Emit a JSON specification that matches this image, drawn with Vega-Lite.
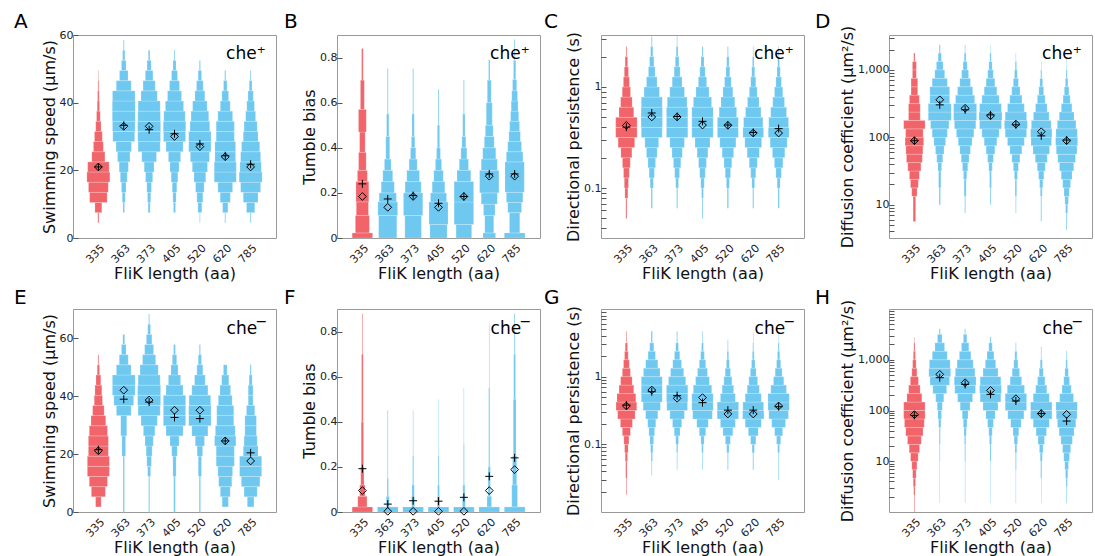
{
"$schema":"https://vega.github.io/schema/vega-lite/v6.json",
"padding":{"left":13,"top":11,"right":0,"bottom":0},
"config":{
"font":"DejaVu Sans",
"view":{"stroke":"#999999","strokeWidth":1},
"axis":{"domain":false,"grid":false,"labelFontSize":11,"titleFontSize":16,"titleFontWeight":"normal","labelColor":"#222","titleColor":"#111","tickColor":"#555"},
"axisX":{"ticks":false,"labelAngle":-45,"labelPadding":4,"titlePadding":1},
"axisY":{"tickSize":-5,"labelPadding":5,"titlePadding":2,"labelOverlap":false}
},
"datasets":{
"v":[
{"p":"A","k":"335","a":4.5,"b":7.5,"w":0.5},{"p":"A","k":"335","a":7.5,"b":10.5,"w":3},{"p":"A","k":"335","a":10.5,"b":13.5,"w":7.6},{"p":"A","k":"335","a":13.5,"b":16.5,"w":8.6},{"p":"A","k":"335","a":16.5,"b":19.5,"w":10},{"p":"A","k":"335","a":19.5,"b":22.5,"w":9.3},{"p":"A","k":"335","a":22.5,"b":25.5,"w":5.7},{"p":"A","k":"335","a":25.5,"b":28.5,"w":4.3},{"p":"A","k":"335","a":28.5,"b":31.5,"w":3.4},{"p":"A","k":"335","a":31.5,"b":34.5,"w":2.3},{"p":"A","k":"335","a":34.5,"b":37.5,"w":1.6},{"p":"A","k":"335","a":37.5,"b":40.5,"w":1},{"p":"A","k":"335","a":40.5,"b":43.5,"w":0.7},{"p":"A","k":"335","a":43.5,"b":46.5,"w":0.4},{"p":"A","k":"335","a":46.5,"b":49.5,"w":0.2},
{"p":"A","k":"363","a":7.5,"b":10.5,"w":0.7},{"p":"A","k":"363","a":10.5,"b":13.5,"w":1.3},{"p":"A","k":"363","a":13.5,"b":16.5,"w":2},{"p":"A","k":"363","a":16.5,"b":19.5,"w":3},{"p":"A","k":"363","a":19.5,"b":22.5,"w":4},{"p":"A","k":"363","a":22.5,"b":25.5,"w":5.4},{"p":"A","k":"363","a":25.5,"b":28.5,"w":6.7},{"p":"A","k":"363","a":28.5,"b":31.5,"w":9.5},{"p":"A","k":"363","a":31.5,"b":34.5,"w":9.8},{"p":"A","k":"363","a":34.5,"b":37.5,"w":10},{"p":"A","k":"363","a":37.5,"b":40.5,"w":10},{"p":"A","k":"363","a":40.5,"b":43.5,"w":9.8},{"p":"A","k":"363","a":43.5,"b":46.5,"w":6.5},{"p":"A","k":"363","a":46.5,"b":49.5,"w":3.7},{"p":"A","k":"363","a":49.5,"b":52.5,"w":2},{"p":"A","k":"363","a":52.5,"b":55.5,"w":1},{"p":"A","k":"363","a":55.5,"b":58.5,"w":0.4},
{"p":"A","k":"373","a":7.5,"b":10.5,"w":0.9},{"p":"A","k":"373","a":10.5,"b":13.5,"w":1.4},{"p":"A","k":"373","a":13.5,"b":16.5,"w":2},{"p":"A","k":"373","a":16.5,"b":19.5,"w":3.1},{"p":"A","k":"373","a":19.5,"b":22.5,"w":4.3},{"p":"A","k":"373","a":22.5,"b":25.5,"w":6.4},{"p":"A","k":"373","a":25.5,"b":28.5,"w":9.6},{"p":"A","k":"373","a":28.5,"b":31.5,"w":9.9},{"p":"A","k":"373","a":31.5,"b":34.5,"w":10},{"p":"A","k":"373","a":34.5,"b":37.5,"w":9.8},{"p":"A","k":"373","a":37.5,"b":40.5,"w":9.6},{"p":"A","k":"373","a":40.5,"b":43.5,"w":7.1},{"p":"A","k":"373","a":43.5,"b":46.5,"w":5.3},{"p":"A","k":"373","a":46.5,"b":49.5,"w":3.3},{"p":"A","k":"373","a":49.5,"b":52.5,"w":1.8},{"p":"A","k":"373","a":52.5,"b":55.5,"w":0.7},
{"p":"A","k":"405","a":7.5,"b":10.5,"w":0.9},{"p":"A","k":"405","a":10.5,"b":13.5,"w":1.4},{"p":"A","k":"405","a":13.5,"b":16.5,"w":2},{"p":"A","k":"405","a":16.5,"b":19.5,"w":2.9},{"p":"A","k":"405","a":19.5,"b":22.5,"w":3.9},{"p":"A","k":"405","a":22.5,"b":25.5,"w":5.3},{"p":"A","k":"405","a":25.5,"b":28.5,"w":7.4},{"p":"A","k":"405","a":28.5,"b":31.5,"w":9.6},{"p":"A","k":"405","a":31.5,"b":34.5,"w":9.8},{"p":"A","k":"405","a":34.5,"b":37.5,"w":9.3},{"p":"A","k":"405","a":37.5,"b":40.5,"w":7.9},{"p":"A","k":"405","a":40.5,"b":43.5,"w":6.1},{"p":"A","k":"405","a":43.5,"b":46.5,"w":4.3},{"p":"A","k":"405","a":46.5,"b":49.5,"w":2.6},{"p":"A","k":"405","a":49.5,"b":52.5,"w":1.3},{"p":"A","k":"405","a":52.5,"b":55.5,"w":0.4},
{"p":"A","k":"520","a":4.5,"b":7.5,"w":0.3},{"p":"A","k":"520","a":7.5,"b":10.5,"w":1.7},{"p":"A","k":"520","a":10.5,"b":13.5,"w":2.6},{"p":"A","k":"520","a":13.5,"b":16.5,"w":3.7},{"p":"A","k":"520","a":16.5,"b":19.5,"w":5.1},{"p":"A","k":"520","a":19.5,"b":22.5,"w":6.6},{"p":"A","k":"520","a":22.5,"b":25.5,"w":8.3},{"p":"A","k":"520","a":25.5,"b":28.5,"w":9.7},{"p":"A","k":"520","a":28.5,"b":31.5,"w":9.7},{"p":"A","k":"520","a":31.5,"b":34.5,"w":8.6},{"p":"A","k":"520","a":34.5,"b":37.5,"w":7.7},{"p":"A","k":"520","a":37.5,"b":40.5,"w":6.3},{"p":"A","k":"520","a":40.5,"b":43.5,"w":4.3},{"p":"A","k":"520","a":43.5,"b":46.5,"w":2.9},{"p":"A","k":"520","a":46.5,"b":49.5,"w":1.5},{"p":"A","k":"520","a":49.5,"b":52.5,"w":0.5},
{"p":"A","k":"620","a":4.5,"b":7.5,"w":0.4},{"p":"A","k":"620","a":7.5,"b":10.5,"w":2.3},{"p":"A","k":"620","a":10.5,"b":13.5,"w":4.4},{"p":"A","k":"620","a":13.5,"b":16.5,"w":6.4},{"p":"A","k":"620","a":16.5,"b":19.5,"w":9.6},{"p":"A","k":"620","a":19.5,"b":22.5,"w":9.6},{"p":"A","k":"620","a":22.5,"b":25.5,"w":9},{"p":"A","k":"620","a":25.5,"b":28.5,"w":9},{"p":"A","k":"620","a":28.5,"b":31.5,"w":7.9},{"p":"A","k":"620","a":31.5,"b":34.5,"w":7.9},{"p":"A","k":"620","a":34.5,"b":37.5,"w":6.4},{"p":"A","k":"620","a":37.5,"b":40.5,"w":4.3},{"p":"A","k":"620","a":40.5,"b":43.5,"w":2.9},{"p":"A","k":"620","a":43.5,"b":46.5,"w":1.5},{"p":"A","k":"620","a":46.5,"b":49.5,"w":0.5},
{"p":"A","k":"785","a":4.5,"b":7.5,"w":0.4},{"p":"A","k":"785","a":7.5,"b":10.5,"w":3.6},{"p":"A","k":"785","a":10.5,"b":13.5,"w":6.4},{"p":"A","k":"785","a":13.5,"b":16.5,"w":8.7},{"p":"A","k":"785","a":16.5,"b":19.5,"w":10},{"p":"A","k":"785","a":19.5,"b":22.5,"w":9.3},{"p":"A","k":"785","a":22.5,"b":25.5,"w":8.7},{"p":"A","k":"785","a":25.5,"b":28.5,"w":7.9},{"p":"A","k":"785","a":28.5,"b":31.5,"w":6.4},{"p":"A","k":"785","a":31.5,"b":34.5,"w":5.7},{"p":"A","k":"785","a":34.5,"b":37.5,"w":4.3},{"p":"A","k":"785","a":37.5,"b":40.5,"w":3.3},{"p":"A","k":"785","a":40.5,"b":43.5,"w":2.3},{"p":"A","k":"785","a":43.5,"b":46.5,"w":1.2},{"p":"A","k":"785","a":46.5,"b":49.5,"w":0.4},

{"p":"B","k":"335","a":0,"b":0.0225,"w":8.9},{"p":"B","k":"335","a":0.0225,"b":0.1,"w":6.1},{"p":"B","k":"335","a":0.1,"b":0.16,"w":5.3},{"p":"B","k":"335","a":0.16,"b":0.25,"w":5.6},{"p":"B","k":"335","a":0.25,"b":0.3,"w":4.3},{"p":"B","k":"335","a":0.3,"b":0.38,"w":3.3},{"p":"B","k":"335","a":0.38,"b":0.47,"w":2.4},{"p":"B","k":"335","a":0.47,"b":0.57,"w":3.4},{"p":"B","k":"335","a":0.57,"b":0.7,"w":1.7},{"p":"B","k":"335","a":0.7,"b":0.84,"w":0.7},
{"p":"B","k":"363","a":0,"b":0.1,"w":7.9},{"p":"B","k":"363","a":0.1,"b":0.16,"w":8.6},{"p":"B","k":"363","a":0.16,"b":0.2,"w":7.5},{"p":"B","k":"363","a":0.2,"b":0.25,"w":5.7},{"p":"B","k":"363","a":0.25,"b":0.3,"w":4.3},{"p":"B","k":"363","a":0.3,"b":0.35,"w":2.9},{"p":"B","k":"363","a":0.35,"b":0.45,"w":1.7},{"p":"B","k":"363","a":0.45,"b":0.55,"w":1},{"p":"B","k":"363","a":0.55,"b":0.75,"w":0.4},
{"p":"B","k":"373","a":0,"b":0.1,"w":7.2},{"p":"B","k":"373","a":0.1,"b":0.2,"w":8.4},{"p":"B","k":"373","a":0.2,"b":0.25,"w":7},{"p":"B","k":"373","a":0.25,"b":0.3,"w":5.5},{"p":"B","k":"373","a":0.3,"b":0.35,"w":3.5},{"p":"B","k":"373","a":0.35,"b":0.4,"w":2.3},{"p":"B","k":"373","a":0.4,"b":0.45,"w":1.5},{"p":"B","k":"373","a":0.45,"b":0.55,"w":1},{"p":"B","k":"373","a":0.55,"b":0.75,"w":0.4},
{"p":"B","k":"405","a":0,"b":0.06,"w":7.5},{"p":"B","k":"405","a":0.06,"b":0.16,"w":8.3},{"p":"B","k":"405","a":0.16,"b":0.2,"w":7},{"p":"B","k":"405","a":0.2,"b":0.25,"w":5.5},{"p":"B","k":"405","a":0.25,"b":0.3,"w":4.1},{"p":"B","k":"405","a":0.3,"b":0.35,"w":2.7},{"p":"B","k":"405","a":0.35,"b":0.4,"w":1.7},{"p":"B","k":"405","a":0.4,"b":0.5,"w":1},{"p":"B","k":"405","a":0.5,"b":0.66,"w":0.4},
{"p":"B","k":"520","a":0,"b":0.06,"w":6.8},{"p":"B","k":"520","a":0.06,"b":0.16,"w":8.5},{"p":"B","k":"520","a":0.16,"b":0.25,"w":8.5},{"p":"B","k":"520","a":0.25,"b":0.3,"w":6},{"p":"B","k":"520","a":0.3,"b":0.35,"w":4},{"p":"B","k":"520","a":0.35,"b":0.4,"w":2.6},{"p":"B","k":"520","a":0.4,"b":0.45,"w":1.7},{"p":"B","k":"520","a":0.45,"b":0.55,"w":1},{"p":"B","k":"520","a":0.55,"b":0.7,"w":0.4},
{"p":"B","k":"620","a":0,"b":0.0225,"w":5.5},{"p":"B","k":"620","a":0.0225,"b":0.1,"w":3.9},{"p":"B","k":"620","a":0.1,"b":0.15,"w":5},{"p":"B","k":"620","a":0.15,"b":0.2,"w":7},{"p":"B","k":"620","a":0.2,"b":0.3,"w":8.4},{"p":"B","k":"620","a":0.3,"b":0.35,"w":7},{"p":"B","k":"620","a":0.35,"b":0.4,"w":5.7},{"p":"B","k":"620","a":0.4,"b":0.45,"w":4.3},{"p":"B","k":"620","a":0.45,"b":0.5,"w":3.4},{"p":"B","k":"620","a":0.5,"b":0.6,"w":2.6},{"p":"B","k":"620","a":0.6,"b":0.7,"w":1.7},{"p":"B","k":"620","a":0.7,"b":0.79,"w":0.6},
{"p":"B","k":"785","a":0,"b":0.0225,"w":9},{"p":"B","k":"785","a":0.0225,"b":0.1125,"w":4.5},{"p":"B","k":"785","a":0.1125,"b":0.1575,"w":6},{"p":"B","k":"785","a":0.1575,"b":0.2025,"w":7.2},{"p":"B","k":"785","a":0.2025,"b":0.3375,"w":8.4},{"p":"B","k":"785","a":0.3375,"b":0.3825,"w":7.2},{"p":"B","k":"785","a":0.3825,"b":0.4275,"w":6},{"p":"B","k":"785","a":0.4275,"b":0.4725,"w":5},{"p":"B","k":"785","a":0.4725,"b":0.5175,"w":4.3},{"p":"B","k":"785","a":0.5175,"b":0.5625,"w":3.5},{"p":"B","k":"785","a":0.5625,"b":0.6075,"w":3},{"p":"B","k":"785","a":0.6075,"b":0.6525,"w":2.5},{"p":"B","k":"785","a":0.6525,"b":0.7025,"w":1.8},{"p":"B","k":"785","a":0.7025,"b":0.7875,"w":1},{"p":"B","k":"785","a":0.7875,"b":0.88,"w":0.4},

{"p":"C","k":"335","a":0.05,"b":0.0794,"w":0.5},{"p":"C","k":"335","a":0.0794,"b":0.1,"w":1.3},{"p":"C","k":"335","a":0.1,"b":0.1259,"w":1.8},{"p":"C","k":"335","a":0.1259,"b":0.1585,"w":2.5},{"p":"C","k":"335","a":0.1585,"b":0.1995,"w":3.4},{"p":"C","k":"335","a":0.1995,"b":0.2512,"w":4.8},{"p":"C","k":"335","a":0.2512,"b":0.3162,"w":7.2},{"p":"C","k":"335","a":0.3162,"b":0.3981,"w":9.3},{"p":"C","k":"335","a":0.3981,"b":0.5012,"w":9.3},{"p":"C","k":"335","a":0.5012,"b":0.631,"w":6.4},{"p":"C","k":"335","a":0.631,"b":0.7943,"w":5},{"p":"C","k":"335","a":0.7943,"b":1,"w":3.6},{"p":"C","k":"335","a":1,"b":1.259,"w":2.6},{"p":"C","k":"335","a":1.259,"b":1.585,"w":1.8},{"p":"C","k":"335","a":1.585,"b":1.995,"w":1.1},{"p":"C","k":"335","a":1.995,"b":2.512,"w":0.4},
{"p":"C","k":"363","a":0.0631,"b":0.1,"w":0.6},{"p":"C","k":"363","a":0.1,"b":0.1259,"w":1.4},{"p":"C","k":"363","a":0.1259,"b":0.1585,"w":2.3},{"p":"C","k":"363","a":0.1585,"b":0.1995,"w":3.3},{"p":"C","k":"363","a":0.1995,"b":0.2512,"w":4.6},{"p":"C","k":"363","a":0.2512,"b":0.3162,"w":6},{"p":"C","k":"363","a":0.3162,"b":0.3981,"w":9.1},{"p":"C","k":"363","a":0.3981,"b":0.5012,"w":9.3},{"p":"C","k":"363","a":0.5012,"b":0.631,"w":9.3},{"p":"C","k":"363","a":0.631,"b":0.7943,"w":9.1},{"p":"C","k":"363","a":0.7943,"b":1,"w":6.7},{"p":"C","k":"363","a":1,"b":1.259,"w":4.6},{"p":"C","k":"363","a":1.259,"b":1.585,"w":2.9},{"p":"C","k":"363","a":1.585,"b":1.995,"w":1.9},{"p":"C","k":"363","a":1.995,"b":2.512,"w":1},{"p":"C","k":"363","a":2.512,"b":3.162,"w":0.4},
{"p":"C","k":"373","a":0.0631,"b":0.1,"w":0.5},{"p":"C","k":"373","a":0.1,"b":0.1259,"w":1.2},{"p":"C","k":"373","a":0.1259,"b":0.1585,"w":2.1},{"p":"C","k":"373","a":0.1585,"b":0.1995,"w":3.2},{"p":"C","k":"373","a":0.1995,"b":0.2512,"w":4.5},{"p":"C","k":"373","a":0.2512,"b":0.3162,"w":6.3},{"p":"C","k":"373","a":0.3162,"b":0.3981,"w":9.3},{"p":"C","k":"373","a":0.3981,"b":0.5012,"w":9.3},{"p":"C","k":"373","a":0.5012,"b":0.631,"w":9.3},{"p":"C","k":"373","a":0.631,"b":0.7943,"w":8.6},{"p":"C","k":"373","a":0.7943,"b":1,"w":6.4},{"p":"C","k":"373","a":1,"b":1.259,"w":4.3},{"p":"C","k":"373","a":1.259,"b":1.585,"w":2.6},{"p":"C","k":"373","a":1.585,"b":1.995,"w":1.6},{"p":"C","k":"373","a":1.995,"b":2.512,"w":0.8},{"p":"C","k":"373","a":2.512,"b":3.162,"w":0.3},
{"p":"C","k":"405","a":0.05,"b":0.0794,"w":0.4},{"p":"C","k":"405","a":0.0794,"b":0.1,"w":0.8},{"p":"C","k":"405","a":0.1,"b":0.1259,"w":1.5},{"p":"C","k":"405","a":0.1259,"b":0.1585,"w":2.4},{"p":"C","k":"405","a":0.1585,"b":0.1995,"w":3.4},{"p":"C","k":"405","a":0.1995,"b":0.2512,"w":4.7},{"p":"C","k":"405","a":0.2512,"b":0.3162,"w":6.5},{"p":"C","k":"405","a":0.3162,"b":0.3981,"w":9.3},{"p":"C","k":"405","a":0.3981,"b":0.5012,"w":9.3},{"p":"C","k":"405","a":0.5012,"b":0.631,"w":9.3},{"p":"C","k":"405","a":0.631,"b":0.7943,"w":7.9},{"p":"C","k":"405","a":0.7943,"b":1,"w":5.7},{"p":"C","k":"405","a":1,"b":1.259,"w":3.6},{"p":"C","k":"405","a":1.259,"b":1.585,"w":2.3},{"p":"C","k":"405","a":1.585,"b":1.995,"w":1.3},{"p":"C","k":"405","a":1.995,"b":2.512,"w":0.5},
{"p":"C","k":"520","a":0.0631,"b":0.1,"w":0.6},{"p":"C","k":"520","a":0.1,"b":0.1259,"w":1.3},{"p":"C","k":"520","a":0.1259,"b":0.1585,"w":2.3},{"p":"C","k":"520","a":0.1585,"b":0.1995,"w":3.4},{"p":"C","k":"520","a":0.1995,"b":0.2512,"w":5},{"p":"C","k":"520","a":0.2512,"b":0.3162,"w":7},{"p":"C","k":"520","a":0.3162,"b":0.3981,"w":9.1},{"p":"C","k":"520","a":0.3981,"b":0.5012,"w":9.1},{"p":"C","k":"520","a":0.5012,"b":0.631,"w":7.6},{"p":"C","k":"520","a":0.631,"b":0.7943,"w":6},{"p":"C","k":"520","a":0.7943,"b":1,"w":4.3},{"p":"C","k":"520","a":1,"b":1.259,"w":2.9},{"p":"C","k":"520","a":1.259,"b":1.585,"w":1.7},{"p":"C","k":"520","a":1.585,"b":1.995,"w":1},{"p":"C","k":"520","a":1.995,"b":2.512,"w":0.4},
{"p":"C","k":"620","a":0.0631,"b":0.1,"w":0.5},{"p":"C","k":"620","a":0.1,"b":0.1259,"w":1.2},{"p":"C","k":"620","a":0.1259,"b":0.1585,"w":2.2},{"p":"C","k":"620","a":0.1585,"b":0.1995,"w":3.5},{"p":"C","k":"620","a":0.1995,"b":0.2512,"w":5.3},{"p":"C","k":"620","a":0.2512,"b":0.3162,"w":7.3},{"p":"C","k":"620","a":0.3162,"b":0.3981,"w":9},{"p":"C","k":"620","a":0.3981,"b":0.5012,"w":8.4},{"p":"C","k":"620","a":0.5012,"b":0.631,"w":6.7},{"p":"C","k":"620","a":0.631,"b":0.7943,"w":5},{"p":"C","k":"620","a":0.7943,"b":1,"w":3.4},{"p":"C","k":"620","a":1,"b":1.259,"w":2.2},{"p":"C","k":"620","a":1.259,"b":1.585,"w":1.3},{"p":"C","k":"620","a":1.585,"b":1.995,"w":0.7},{"p":"C","k":"620","a":1.995,"b":2.512,"w":0.3},
{"p":"C","k":"785","a":0.0631,"b":0.1,"w":0.6},{"p":"C","k":"785","a":0.1,"b":0.1259,"w":1.3},{"p":"C","k":"785","a":0.1259,"b":0.1585,"w":2.4},{"p":"C","k":"785","a":0.1585,"b":0.1995,"w":3.7},{"p":"C","k":"785","a":0.1995,"b":0.2512,"w":5.4},{"p":"C","k":"785","a":0.2512,"b":0.3162,"w":7.4},{"p":"C","k":"785","a":0.3162,"b":0.3981,"w":9},{"p":"C","k":"785","a":0.3981,"b":0.5012,"w":8.6},{"p":"C","k":"785","a":0.5012,"b":0.631,"w":6.9},{"p":"C","k":"785","a":0.631,"b":0.7943,"w":5.1},{"p":"C","k":"785","a":0.7943,"b":1,"w":3.6},{"p":"C","k":"785","a":1,"b":1.259,"w":2.4},{"p":"C","k":"785","a":1.259,"b":1.585,"w":1.4},{"p":"C","k":"785","a":1.585,"b":1.995,"w":0.8},{"p":"C","k":"785","a":1.995,"b":2.512,"w":0.3},

{"p":"D","k":"335","a":5.623,"b":13.34,"w":1.1},{"p":"D","k":"335","a":13.34,"b":17.78,"w":2.3},{"p":"D","k":"335","a":17.78,"b":23.71,"w":3.4},{"p":"D","k":"335","a":23.71,"b":31.62,"w":4.3},{"p":"D","k":"335","a":31.62,"b":42.17,"w":5.7},{"p":"D","k":"335","a":42.17,"b":56.23,"w":6.9},{"p":"D","k":"335","a":56.23,"b":74.99,"w":7.4},{"p":"D","k":"335","a":74.99,"b":100,"w":8.1},{"p":"D","k":"335","a":100,"b":133.4,"w":7.6},{"p":"D","k":"335","a":133.4,"b":177.8,"w":9.3},{"p":"D","k":"335","a":177.8,"b":237.1,"w":5.1},{"p":"D","k":"335","a":237.1,"b":316.2,"w":5.1},{"p":"D","k":"335","a":316.2,"b":421.7,"w":4.3},{"p":"D","k":"335","a":421.7,"b":562.3,"w":2.9},{"p":"D","k":"335","a":562.3,"b":749.9,"w":2.9},{"p":"D","k":"335","a":749.9,"b":1000,"w":1.7},{"p":"D","k":"335","a":1000,"b":1334,"w":1.7},{"p":"D","k":"335","a":1334,"b":1778,"w":0.6},
{"p":"D","k":"363","a":10,"b":17.78,"w":0.6},{"p":"D","k":"363","a":17.78,"b":31.62,"w":1},{"p":"D","k":"363","a":31.62,"b":42.17,"w":1.6},{"p":"D","k":"363","a":42.17,"b":56.23,"w":2.6},{"p":"D","k":"363","a":56.23,"b":74.99,"w":3.7},{"p":"D","k":"363","a":74.99,"b":100,"w":5.1},{"p":"D","k":"363","a":100,"b":133.4,"w":6.6},{"p":"D","k":"363","a":133.4,"b":177.8,"w":8},{"p":"D","k":"363","a":177.8,"b":237.1,"w":10},{"p":"D","k":"363","a":237.1,"b":316.2,"w":10},{"p":"D","k":"363","a":316.2,"b":421.7,"w":8.6},{"p":"D","k":"363","a":421.7,"b":562.3,"w":8.6},{"p":"D","k":"363","a":562.3,"b":749.9,"w":6.6},{"p":"D","k":"363","a":749.9,"b":1000,"w":4.3},{"p":"D","k":"363","a":1000,"b":1334,"w":2.9},{"p":"D","k":"363","a":1334,"b":1778,"w":1.4},{"p":"D","k":"363","a":1778,"b":2371,"w":0.5},
{"p":"D","k":"373","a":7.499,"b":13.34,"w":0.4},{"p":"D","k":"373","a":13.34,"b":23.71,"w":0.9},{"p":"D","k":"373","a":23.71,"b":31.62,"w":1.4},{"p":"D","k":"373","a":31.62,"b":42.17,"w":2.3},{"p":"D","k":"373","a":42.17,"b":56.23,"w":3.4},{"p":"D","k":"373","a":56.23,"b":74.99,"w":4.6},{"p":"D","k":"373","a":74.99,"b":100,"w":6},{"p":"D","k":"373","a":100,"b":133.4,"w":7.6},{"p":"D","k":"373","a":133.4,"b":177.8,"w":9.3},{"p":"D","k":"373","a":177.8,"b":237.1,"w":10},{"p":"D","k":"373","a":237.1,"b":316.2,"w":10},{"p":"D","k":"373","a":316.2,"b":421.7,"w":8.3},{"p":"D","k":"373","a":421.7,"b":562.3,"w":6.6},{"p":"D","k":"373","a":562.3,"b":749.9,"w":4.6},{"p":"D","k":"373","a":749.9,"b":1000,"w":3},{"p":"D","k":"373","a":1000,"b":1334,"w":1.8},{"p":"D","k":"373","a":1334,"b":1778,"w":0.8},{"p":"D","k":"373","a":1778,"b":2371,"w":0.3},
{"p":"D","k":"405","a":10,"b":17.78,"w":0.4},{"p":"D","k":"405","a":17.78,"b":31.62,"w":0.8},{"p":"D","k":"405","a":31.62,"b":42.17,"w":1.5},{"p":"D","k":"405","a":42.17,"b":56.23,"w":2.5},{"p":"D","k":"405","a":56.23,"b":74.99,"w":3.8},{"p":"D","k":"405","a":74.99,"b":100,"w":5.5},{"p":"D","k":"405","a":100,"b":133.4,"w":7.5},{"p":"D","k":"405","a":133.4,"b":177.8,"w":9.5},{"p":"D","k":"405","a":177.8,"b":237.1,"w":10},{"p":"D","k":"405","a":237.1,"b":316.2,"w":9.5},{"p":"D","k":"405","a":316.2,"b":421.7,"w":7.5},{"p":"D","k":"405","a":421.7,"b":562.3,"w":5.5},{"p":"D","k":"405","a":562.3,"b":749.9,"w":3.8},{"p":"D","k":"405","a":749.9,"b":1000,"w":2.4},{"p":"D","k":"405","a":1000,"b":1334,"w":1.4},{"p":"D","k":"405","a":1334,"b":1778,"w":0.6},{"p":"D","k":"405","a":1778,"b":2371,"w":0.2},
{"p":"D","k":"520","a":7.499,"b":13.34,"w":0.3},{"p":"D","k":"520","a":13.34,"b":23.71,"w":0.7},{"p":"D","k":"520","a":23.71,"b":31.62,"w":1.3},{"p":"D","k":"520","a":31.62,"b":42.17,"w":2.2},{"p":"D","k":"520","a":42.17,"b":56.23,"w":3.5},{"p":"D","k":"520","a":56.23,"b":74.99,"w":5.2},{"p":"D","k":"520","a":74.99,"b":100,"w":7.3},{"p":"D","k":"520","a":100,"b":133.4,"w":9.3},{"p":"D","k":"520","a":133.4,"b":177.8,"w":10},{"p":"D","k":"520","a":177.8,"b":237.1,"w":9.3},{"p":"D","k":"520","a":237.1,"b":316.2,"w":7.3},{"p":"D","k":"520","a":316.2,"b":421.7,"w":5.3},{"p":"D","k":"520","a":421.7,"b":562.3,"w":3.6},{"p":"D","k":"520","a":562.3,"b":749.9,"w":2.2},{"p":"D","k":"520","a":749.9,"b":1000,"w":1.2},{"p":"D","k":"520","a":1000,"b":1334,"w":0.6},{"p":"D","k":"520","a":1334,"b":1778,"w":0.2},
{"p":"D","k":"620","a":5.623,"b":13.34,"w":0.4},{"p":"D","k":"620","a":13.34,"b":17.78,"w":0.8},{"p":"D","k":"620","a":17.78,"b":23.71,"w":1.4},{"p":"D","k":"620","a":23.71,"b":31.62,"w":2.3},{"p":"D","k":"620","a":31.62,"b":42.17,"w":3.5},{"p":"D","k":"620","a":42.17,"b":56.23,"w":5.2},{"p":"D","k":"620","a":56.23,"b":74.99,"w":7.2},{"p":"D","k":"620","a":74.99,"b":100,"w":8.9},{"p":"D","k":"620","a":100,"b":133.4,"w":9.3},{"p":"D","k":"620","a":133.4,"b":177.8,"w":8.6},{"p":"D","k":"620","a":177.8,"b":237.1,"w":6.8},{"p":"D","k":"620","a":237.1,"b":316.2,"w":5},{"p":"D","k":"620","a":316.2,"b":421.7,"w":3.4},{"p":"D","k":"620","a":421.7,"b":562.3,"w":2.1},{"p":"D","k":"620","a":562.3,"b":749.9,"w":1.2},{"p":"D","k":"620","a":749.9,"b":1000,"w":0.5},{"p":"D","k":"620","a":1000,"b":1334,"w":0.2},
{"p":"D","k":"785","a":4.217,"b":7.499,"w":0.4},{"p":"D","k":"785","a":7.499,"b":10,"w":0.9},{"p":"D","k":"785","a":10,"b":13.34,"w":1.5},{"p":"D","k":"785","a":13.34,"b":17.78,"w":2.3},{"p":"D","k":"785","a":17.78,"b":23.71,"w":3.4},{"p":"D","k":"785","a":23.71,"b":31.62,"w":4.7},{"p":"D","k":"785","a":31.62,"b":42.17,"w":6.2},{"p":"D","k":"785","a":42.17,"b":56.23,"w":7.7},{"p":"D","k":"785","a":56.23,"b":74.99,"w":9},{"p":"D","k":"785","a":74.99,"b":100,"w":9.6},{"p":"D","k":"785","a":100,"b":133.4,"w":9.3},{"p":"D","k":"785","a":133.4,"b":177.8,"w":8.1},{"p":"D","k":"785","a":177.8,"b":237.1,"w":6.4},{"p":"D","k":"785","a":237.1,"b":316.2,"w":4.6},{"p":"D","k":"785","a":316.2,"b":421.7,"w":3.1},{"p":"D","k":"785","a":421.7,"b":562.3,"w":2},{"p":"D","k":"785","a":562.3,"b":749.9,"w":1.1},{"p":"D","k":"785","a":749.9,"b":1000,"w":0.5},{"p":"D","k":"785","a":1000,"b":1500,"w":0.2},

{"p":"E","k":"335","a":1.75,"b":5.25,"w":2.4},{"p":"E","k":"335","a":5.25,"b":8.75,"w":6.1},{"p":"E","k":"335","a":8.75,"b":12.25,"w":7.9},{"p":"E","k":"335","a":12.25,"b":15.75,"w":9.6},{"p":"E","k":"335","a":15.75,"b":19.25,"w":9.6},{"p":"E","k":"335","a":19.25,"b":22.75,"w":8.7},{"p":"E","k":"335","a":22.75,"b":26.25,"w":8.7},{"p":"E","k":"335","a":26.25,"b":29.75,"w":7.9},{"p":"E","k":"335","a":29.75,"b":33.25,"w":6.4},{"p":"E","k":"335","a":33.25,"b":36.75,"w":5},{"p":"E","k":"335","a":36.75,"b":40.25,"w":3.6},{"p":"E","k":"335","a":40.25,"b":43.75,"w":3},{"p":"E","k":"335","a":43.75,"b":47.25,"w":2.1},{"p":"E","k":"335","a":47.25,"b":50.75,"w":1},{"p":"E","k":"335","a":50.75,"b":54.25,"w":0.4},
{"p":"E","k":"363","a":0,"b":19.25,"w":0.6},{"p":"E","k":"363","a":19.25,"b":26.25,"w":1.6},{"p":"E","k":"363","a":26.25,"b":33.25,"w":2.6},{"p":"E","k":"363","a":33.25,"b":36.75,"w":6.4},{"p":"E","k":"363","a":36.75,"b":40.25,"w":8.6},{"p":"E","k":"363","a":40.25,"b":43.75,"w":9.9},{"p":"E","k":"363","a":43.75,"b":47.25,"w":9.9},{"p":"E","k":"363","a":47.25,"b":50.75,"w":6.4},{"p":"E","k":"363","a":50.75,"b":54.25,"w":3.9},{"p":"E","k":"363","a":54.25,"b":57.75,"w":2},{"p":"E","k":"363","a":57.75,"b":61.25,"w":0.8},
{"p":"E","k":"373","a":0,"b":12.25,"w":0.5},{"p":"E","k":"373","a":12.25,"b":15.75,"w":1.3},{"p":"E","k":"373","a":15.75,"b":19.25,"w":2},{"p":"E","k":"373","a":19.25,"b":22.75,"w":2.6},{"p":"E","k":"373","a":22.75,"b":26.25,"w":3.6},{"p":"E","k":"373","a":26.25,"b":29.75,"w":5},{"p":"E","k":"373","a":29.75,"b":33.25,"w":7.1},{"p":"E","k":"373","a":33.25,"b":36.75,"w":9.6},{"p":"E","k":"373","a":36.75,"b":40.25,"w":10},{"p":"E","k":"373","a":40.25,"b":43.75,"w":10},{"p":"E","k":"373","a":43.75,"b":47.25,"w":9.6},{"p":"E","k":"373","a":47.25,"b":50.75,"w":7.9},{"p":"E","k":"373","a":50.75,"b":54.25,"w":5.7},{"p":"E","k":"373","a":54.25,"b":57.75,"w":3.9},{"p":"E","k":"373","a":57.75,"b":61.25,"w":2.4},{"p":"E","k":"373","a":61.25,"b":64.75,"w":1.2},{"p":"E","k":"373","a":64.75,"b":68.25,"w":0.4},
{"p":"E","k":"405","a":0,"b":12.25,"w":0.7},{"p":"E","k":"405","a":12.25,"b":19.25,"w":1.4},{"p":"E","k":"405","a":19.25,"b":22.75,"w":2.4},{"p":"E","k":"405","a":22.75,"b":26.25,"w":3.9},{"p":"E","k":"405","a":26.25,"b":29.75,"w":7.4},{"p":"E","k":"405","a":29.75,"b":33.25,"w":9.7},{"p":"E","k":"405","a":33.25,"b":36.75,"w":9.7},{"p":"E","k":"405","a":36.75,"b":40.25,"w":9.7},{"p":"E","k":"405","a":40.25,"b":43.75,"w":7.4},{"p":"E","k":"405","a":43.75,"b":47.25,"w":5.3},{"p":"E","k":"405","a":47.25,"b":50.75,"w":3.1},{"p":"E","k":"405","a":50.75,"b":54.25,"w":1.9},{"p":"E","k":"405","a":54.25,"b":57.75,"w":0.8},
{"p":"E","k":"520","a":0,"b":12.25,"w":0.6},{"p":"E","k":"520","a":12.25,"b":19.25,"w":1.4},{"p":"E","k":"520","a":19.25,"b":22.75,"w":2.4},{"p":"E","k":"520","a":22.75,"b":26.25,"w":4},{"p":"E","k":"520","a":26.25,"b":29.75,"w":7},{"p":"E","k":"520","a":29.75,"b":33.25,"w":9.7},{"p":"E","k":"520","a":33.25,"b":36.75,"w":9.7},{"p":"E","k":"520","a":36.75,"b":40.25,"w":9.4},{"p":"E","k":"520","a":40.25,"b":43.75,"w":7},{"p":"E","k":"520","a":43.75,"b":47.25,"w":4.6},{"p":"E","k":"520","a":47.25,"b":50.75,"w":2.6},{"p":"E","k":"520","a":50.75,"b":54.25,"w":1.4},{"p":"E","k":"520","a":54.25,"b":57.75,"w":0.5},
{"p":"E","k":"620","a":1.75,"b":5.25,"w":2.7},{"p":"E","k":"620","a":5.25,"b":8.75,"w":4.3},{"p":"E","k":"620","a":8.75,"b":12.25,"w":5.7},{"p":"E","k":"620","a":12.25,"b":15.75,"w":6.4},{"p":"E","k":"620","a":15.75,"b":19.25,"w":7.9},{"p":"E","k":"620","a":19.25,"b":22.75,"w":7.9},{"p":"E","k":"620","a":22.75,"b":26.25,"w":9.3},{"p":"E","k":"620","a":26.25,"b":29.75,"w":8.6},{"p":"E","k":"620","a":29.75,"b":33.25,"w":7.4},{"p":"E","k":"620","a":33.25,"b":36.75,"w":7.4},{"p":"E","k":"620","a":36.75,"b":40.25,"w":6},{"p":"E","k":"620","a":40.25,"b":43.75,"w":4.6},{"p":"E","k":"620","a":43.75,"b":47.25,"w":3.1},{"p":"E","k":"620","a":47.25,"b":50.75,"w":1.6},
{"p":"E","k":"785","a":1.75,"b":5.25,"w":2.9},{"p":"E","k":"785","a":5.25,"b":8.75,"w":5.7},{"p":"E","k":"785","a":8.75,"b":12.25,"w":8.1},{"p":"E","k":"785","a":12.25,"b":15.75,"w":9.6},{"p":"E","k":"785","a":15.75,"b":19.25,"w":9.6},{"p":"E","k":"785","a":19.25,"b":22.75,"w":6.4},{"p":"E","k":"785","a":22.75,"b":26.25,"w":5.7},{"p":"E","k":"785","a":26.25,"b":29.75,"w":5},{"p":"E","k":"785","a":29.75,"b":33.25,"w":5},{"p":"E","k":"785","a":33.25,"b":36.75,"w":3.6},{"p":"E","k":"785","a":36.75,"b":40.25,"w":2.1},{"p":"E","k":"785","a":40.25,"b":43.75,"w":2.1},{"p":"E","k":"785","a":43.75,"b":47.25,"w":1.3},{"p":"E","k":"785","a":47.25,"b":50.75,"w":0.5},

{"p":"F","k":"335","a":0,"b":0.0225,"w":8.9},{"p":"F","k":"335","a":0.0225,"b":0.07,"w":4},{"p":"F","k":"335","a":0.07,"b":0.12,"w":2.3},{"p":"F","k":"335","a":0.12,"b":0.2,"w":1.4},{"p":"F","k":"335","a":0.2,"b":0.4,"w":1},{"p":"F","k":"335","a":0.4,"b":0.7,"w":0.7},{"p":"F","k":"335","a":0.7,"b":0.88,"w":0.3},
{"p":"F","k":"363","a":0,"b":0.0225,"w":9},{"p":"F","k":"363","a":0.0225,"b":0.07,"w":1.3},{"p":"F","k":"363","a":0.07,"b":0.15,"w":0.6},{"p":"F","k":"363","a":0.15,"b":0.45,"w":0.3},
{"p":"F","k":"373","a":0,"b":0.0225,"w":9},{"p":"F","k":"373","a":0.0225,"b":0.07,"w":1.3},{"p":"F","k":"373","a":0.07,"b":0.12,"w":1},{"p":"F","k":"373","a":0.12,"b":0.25,"w":0.5},{"p":"F","k":"373","a":0.25,"b":0.45,"w":0.25},
{"p":"F","k":"405","a":0,"b":0.0225,"w":9},{"p":"F","k":"405","a":0.0225,"b":0.07,"w":1.2},{"p":"F","k":"405","a":0.07,"b":0.12,"w":0.8},{"p":"F","k":"405","a":0.12,"b":0.25,"w":0.4},{"p":"F","k":"405","a":0.25,"b":0.5,"w":0.2},
{"p":"F","k":"520","a":0,"b":0.0225,"w":9},{"p":"F","k":"520","a":0.0225,"b":0.07,"w":1.3},{"p":"F","k":"520","a":0.07,"b":0.12,"w":0.9},{"p":"F","k":"520","a":0.12,"b":0.3,"w":0.4},{"p":"F","k":"520","a":0.3,"b":0.55,"w":0.2},
{"p":"F","k":"620","a":0,"b":0.0225,"w":9},{"p":"F","k":"620","a":0.0225,"b":0.07,"w":2},{"p":"F","k":"620","a":0.07,"b":0.2,"w":1},{"p":"F","k":"620","a":0.2,"b":0.55,"w":0.5},{"p":"F","k":"620","a":0.55,"b":0.83,"w":0.25},
{"p":"F","k":"785","a":0,"b":0.0225,"w":9},{"p":"F","k":"785","a":0.0225,"b":0.12,"w":2.5},{"p":"F","k":"785","a":0.12,"b":0.25,"w":1.8},{"p":"F","k":"785","a":0.25,"b":0.5,"w":1.2},{"p":"F","k":"785","a":0.5,"b":0.7,"w":0.8},{"p":"F","k":"785","a":0.7,"b":0.88,"w":0.4},

{"p":"G","k":"335","a":0.0178,"b":0.0316,"w":0.3},{"p":"G","k":"335","a":0.0316,"b":0.0562,"w":0.6},{"p":"G","k":"335","a":0.0562,"b":0.075,"w":1},{"p":"G","k":"335","a":0.075,"b":0.1,"w":1.5},{"p":"G","k":"335","a":0.1,"b":0.1334,"w":2.2},{"p":"G","k":"335","a":0.1334,"b":0.1778,"w":3.5},{"p":"G","k":"335","a":0.1778,"b":0.2371,"w":5.2},{"p":"G","k":"335","a":0.2371,"b":0.3162,"w":7.6},{"p":"G","k":"335","a":0.3162,"b":0.4217,"w":9},{"p":"G","k":"335","a":0.4217,"b":0.5623,"w":8.2},{"p":"G","k":"335","a":0.5623,"b":0.7499,"w":6.4},{"p":"G","k":"335","a":0.7499,"b":1,"w":5},{"p":"G","k":"335","a":1,"b":1.334,"w":3.5},{"p":"G","k":"335","a":1.334,"b":1.778,"w":2.5},{"p":"G","k":"335","a":1.778,"b":2.371,"w":1.6},{"p":"G","k":"335","a":2.371,"b":3.162,"w":1},{"p":"G","k":"335","a":3.162,"b":4.7,"w":0.3},
{"p":"G","k":"363","a":0.035,"b":0.0562,"w":0.3},{"p":"G","k":"363","a":0.0562,"b":0.075,"w":0.6},{"p":"G","k":"363","a":0.075,"b":0.1,"w":1},{"p":"G","k":"363","a":0.1,"b":0.1334,"w":1.6},{"p":"G","k":"363","a":0.1334,"b":0.1778,"w":2.5},{"p":"G","k":"363","a":0.1778,"b":0.2371,"w":3.5},{"p":"G","k":"363","a":0.2371,"b":0.3162,"w":5.3},{"p":"G","k":"363","a":0.3162,"b":0.4217,"w":7.5},{"p":"G","k":"363","a":0.4217,"b":0.5623,"w":9.1},{"p":"G","k":"363","a":0.5623,"b":0.7499,"w":9.1},{"p":"G","k":"363","a":0.7499,"b":1,"w":9.1},{"p":"G","k":"363","a":1,"b":1.334,"w":7.2},{"p":"G","k":"363","a":1.334,"b":1.778,"w":5.3},{"p":"G","k":"363","a":1.778,"b":2.371,"w":3.2},{"p":"G","k":"363","a":2.371,"b":3.162,"w":1.8},{"p":"G","k":"363","a":3.162,"b":4.7,"w":0.6},
{"p":"G","k":"373","a":0.042,"b":0.075,"w":0.3},{"p":"G","k":"373","a":0.075,"b":0.1,"w":0.6},{"p":"G","k":"373","a":0.1,"b":0.1334,"w":1.2},{"p":"G","k":"373","a":0.1334,"b":0.1778,"w":2.5},{"p":"G","k":"373","a":0.1778,"b":0.2371,"w":4},{"p":"G","k":"373","a":0.2371,"b":0.3162,"w":6.3},{"p":"G","k":"373","a":0.3162,"b":0.4217,"w":9},{"p":"G","k":"373","a":0.4217,"b":0.5623,"w":9.3},{"p":"G","k":"373","a":0.5623,"b":0.7499,"w":9.3},{"p":"G","k":"373","a":0.7499,"b":1,"w":7.5},{"p":"G","k":"373","a":1,"b":1.334,"w":5.7},{"p":"G","k":"373","a":1.334,"b":1.778,"w":3.8},{"p":"G","k":"373","a":1.778,"b":2.371,"w":2.3},{"p":"G","k":"373","a":2.371,"b":3.162,"w":1.2},{"p":"G","k":"373","a":3.162,"b":4.7,"w":0.4},
{"p":"G","k":"405","a":0.042,"b":0.075,"w":0.3},{"p":"G","k":"405","a":0.075,"b":0.1,"w":0.7},{"p":"G","k":"405","a":0.1,"b":0.1334,"w":1.4},{"p":"G","k":"405","a":0.1334,"b":0.1778,"w":2.8},{"p":"G","k":"405","a":0.1778,"b":0.2371,"w":5},{"p":"G","k":"405","a":0.2371,"b":0.3162,"w":8.5},{"p":"G","k":"405","a":0.3162,"b":0.4217,"w":9.3},{"p":"G","k":"405","a":0.4217,"b":0.5623,"w":9.3},{"p":"G","k":"405","a":0.5623,"b":0.7499,"w":8},{"p":"G","k":"405","a":0.7499,"b":1,"w":6},{"p":"G","k":"405","a":1,"b":1.334,"w":4.3},{"p":"G","k":"405","a":1.334,"b":1.778,"w":2.8},{"p":"G","k":"405","a":1.778,"b":2.371,"w":1.6},{"p":"G","k":"405","a":2.371,"b":3.162,"w":0.8},{"p":"G","k":"405","a":3.162,"b":4.7,"w":0.3},
{"p":"G","k":"520","a":0.042,"b":0.075,"w":0.4},{"p":"G","k":"520","a":0.075,"b":0.1,"w":1},{"p":"G","k":"520","a":0.1,"b":0.1334,"w":2.2},{"p":"G","k":"520","a":0.1334,"b":0.1778,"w":4.3},{"p":"G","k":"520","a":0.1778,"b":0.2371,"w":6.5},{"p":"G","k":"520","a":0.2371,"b":0.3162,"w":9.3},{"p":"G","k":"520","a":0.3162,"b":0.4217,"w":9.3},{"p":"G","k":"520","a":0.4217,"b":0.5623,"w":6.5},{"p":"G","k":"520","a":0.5623,"b":0.7499,"w":5},{"p":"G","k":"520","a":0.7499,"b":1,"w":3.5},{"p":"G","k":"520","a":1,"b":1.334,"w":2.3},{"p":"G","k":"520","a":1.334,"b":1.778,"w":1.3},{"p":"G","k":"520","a":1.778,"b":2.371,"w":0.7},{"p":"G","k":"520","a":2.371,"b":3.5,"w":0.3},
{"p":"G","k":"620","a":0.042,"b":0.075,"w":0.4},{"p":"G","k":"620","a":0.075,"b":0.1,"w":1},{"p":"G","k":"620","a":0.1,"b":0.1334,"w":2.3},{"p":"G","k":"620","a":0.1334,"b":0.1778,"w":4.3},{"p":"G","k":"620","a":0.1778,"b":0.2371,"w":7},{"p":"G","k":"620","a":0.2371,"b":0.3162,"w":9.3},{"p":"G","k":"620","a":0.3162,"b":0.4217,"w":9},{"p":"G","k":"620","a":0.4217,"b":0.5623,"w":7},{"p":"G","k":"620","a":0.5623,"b":0.7499,"w":5.3},{"p":"G","k":"620","a":0.7499,"b":1,"w":3.8},{"p":"G","k":"620","a":1,"b":1.334,"w":2.5},{"p":"G","k":"620","a":1.334,"b":1.778,"w":1.5},{"p":"G","k":"620","a":1.778,"b":2.371,"w":0.8},{"p":"G","k":"620","a":2.371,"b":3.162,"w":0.4},{"p":"G","k":"620","a":3.162,"b":4.5,"w":0.2},
{"p":"G","k":"785","a":0.03,"b":0.075,"w":0.3},{"p":"G","k":"785","a":0.075,"b":0.1,"w":0.8},{"p":"G","k":"785","a":0.1,"b":0.1334,"w":1.8},{"p":"G","k":"785","a":0.1334,"b":0.1778,"w":3.5},{"p":"G","k":"785","a":0.1778,"b":0.2371,"w":6},{"p":"G","k":"785","a":0.2371,"b":0.3162,"w":8.5},{"p":"G","k":"785","a":0.3162,"b":0.4217,"w":9.3},{"p":"G","k":"785","a":0.4217,"b":0.5623,"w":9.3},{"p":"G","k":"785","a":0.5623,"b":0.7499,"w":6.8},{"p":"G","k":"785","a":0.7499,"b":1,"w":4.5},{"p":"G","k":"785","a":1,"b":1.334,"w":3},{"p":"G","k":"785","a":1.334,"b":1.778,"w":1.8},{"p":"G","k":"785","a":1.778,"b":2.371,"w":1},{"p":"G","k":"785","a":2.371,"b":3.162,"w":0.5},{"p":"G","k":"785","a":3.162,"b":4.5,"w":0.2},

{"p":"H","k":"335","a":1,"b":2.154,"w":0.3},{"p":"H","k":"335","a":2.154,"b":3.162,"w":0.6},{"p":"H","k":"335","a":3.162,"b":4.642,"w":1},{"p":"H","k":"335","a":4.642,"b":6.813,"w":1.5},{"p":"H","k":"335","a":6.813,"b":10,"w":2.2},{"p":"H","k":"335","a":10,"b":14.68,"w":3.3},{"p":"H","k":"335","a":14.68,"b":21.54,"w":4.5},{"p":"H","k":"335","a":21.54,"b":31.62,"w":6},{"p":"H","k":"335","a":31.62,"b":46.42,"w":7.5},{"p":"H","k":"335","a":46.42,"b":68.13,"w":8.6},{"p":"H","k":"335","a":68.13,"b":100,"w":9.3},{"p":"H","k":"335","a":100,"b":146.8,"w":9.3},{"p":"H","k":"335","a":146.8,"b":215.4,"w":6.5},{"p":"H","k":"335","a":215.4,"b":316.2,"w":5},{"p":"H","k":"335","a":316.2,"b":464.2,"w":3.5},{"p":"H","k":"335","a":464.2,"b":681.3,"w":2.2},{"p":"H","k":"335","a":681.3,"b":1000,"w":1.5},{"p":"H","k":"335","a":1000,"b":1468,"w":0.9},{"p":"H","k":"335","a":1468,"b":2154,"w":0.5},{"p":"H","k":"335","a":2154,"b":2800,"w":0.2},
{"p":"H","k":"363","a":1.5,"b":10,"w":0.2},{"p":"H","k":"363","a":10,"b":21.54,"w":0.3},{"p":"H","k":"363","a":21.54,"b":46.42,"w":0.5},{"p":"H","k":"363","a":46.42,"b":68.13,"w":1},{"p":"H","k":"363","a":68.13,"b":100,"w":1.5},{"p":"H","k":"363","a":100,"b":146.8,"w":2.2},{"p":"H","k":"363","a":146.8,"b":215.4,"w":3.5},{"p":"H","k":"363","a":215.4,"b":316.2,"w":6},{"p":"H","k":"363","a":316.2,"b":464.2,"w":8.5},{"p":"H","k":"363","a":464.2,"b":681.3,"w":9.5},{"p":"H","k":"363","a":681.3,"b":1000,"w":9},{"p":"H","k":"363","a":1000,"b":1468,"w":6.5},{"p":"H","k":"363","a":1468,"b":2154,"w":4.2},{"p":"H","k":"363","a":2154,"b":3162,"w":2},{"p":"H","k":"363","a":3162,"b":4100,"w":0.5},
{"p":"H","k":"373","a":1.5,"b":10,"w":0.2},{"p":"H","k":"373","a":10,"b":21.54,"w":0.4},{"p":"H","k":"373","a":21.54,"b":31.62,"w":0.6},{"p":"H","k":"373","a":31.62,"b":46.42,"w":1},{"p":"H","k":"373","a":46.42,"b":68.13,"w":1.6},{"p":"H","k":"373","a":68.13,"b":100,"w":2.5},{"p":"H","k":"373","a":100,"b":146.8,"w":4.3},{"p":"H","k":"373","a":146.8,"b":215.4,"w":6.5},{"p":"H","k":"373","a":215.4,"b":316.2,"w":9},{"p":"H","k":"373","a":316.2,"b":464.2,"w":9.5},{"p":"H","k":"373","a":464.2,"b":681.3,"w":8.5},{"p":"H","k":"373","a":681.3,"b":1000,"w":7},{"p":"H","k":"373","a":1000,"b":1468,"w":5},{"p":"H","k":"373","a":1468,"b":2154,"w":3.2},{"p":"H","k":"373","a":2154,"b":3162,"w":1.5},{"p":"H","k":"373","a":3162,"b":4100,"w":0.4},
{"p":"H","k":"405","a":1.5,"b":10,"w":0.2},{"p":"H","k":"405","a":10,"b":21.54,"w":0.5},{"p":"H","k":"405","a":21.54,"b":31.62,"w":0.9},{"p":"H","k":"405","a":31.62,"b":46.42,"w":1.5},{"p":"H","k":"405","a":46.42,"b":68.13,"w":2.5},{"p":"H","k":"405","a":68.13,"b":100,"w":4},{"p":"H","k":"405","a":100,"b":146.8,"w":6.5},{"p":"H","k":"405","a":146.8,"b":215.4,"w":9},{"p":"H","k":"405","a":215.4,"b":316.2,"w":9.5},{"p":"H","k":"405","a":316.2,"b":464.2,"w":9},{"p":"H","k":"405","a":464.2,"b":681.3,"w":6.5},{"p":"H","k":"405","a":681.3,"b":1000,"w":4.5},{"p":"H","k":"405","a":1000,"b":1468,"w":3},{"p":"H","k":"405","a":1468,"b":2154,"w":1.5},{"p":"H","k":"405","a":2154,"b":2800,"w":0.5},
{"p":"H","k":"520","a":1.5,"b":6.813,"w":0.2},{"p":"H","k":"520","a":6.813,"b":14.68,"w":0.4},{"p":"H","k":"520","a":14.68,"b":21.54,"w":0.8},{"p":"H","k":"520","a":21.54,"b":31.62,"w":1.5},{"p":"H","k":"520","a":31.62,"b":46.42,"w":2.5},{"p":"H","k":"520","a":46.42,"b":68.13,"w":4.5},{"p":"H","k":"520","a":68.13,"b":100,"w":7},{"p":"H","k":"520","a":100,"b":146.8,"w":9.3},{"p":"H","k":"520","a":146.8,"b":215.4,"w":9.3},{"p":"H","k":"520","a":215.4,"b":316.2,"w":7.5},{"p":"H","k":"520","a":316.2,"b":464.2,"w":5},{"p":"H","k":"520","a":464.2,"b":681.3,"w":3.2},{"p":"H","k":"520","a":681.3,"b":1000,"w":1.8},{"p":"H","k":"520","a":1000,"b":1468,"w":0.9},{"p":"H","k":"520","a":1468,"b":2154,"w":0.3},
{"p":"H","k":"620","a":1.5,"b":4.642,"w":0.2},{"p":"H","k":"620","a":4.642,"b":10,"w":0.5},{"p":"H","k":"620","a":10,"b":14.68,"w":0.9},{"p":"H","k":"620","a":14.68,"b":21.54,"w":1.6},{"p":"H","k":"620","a":21.54,"b":31.62,"w":2.8},{"p":"H","k":"620","a":31.62,"b":46.42,"w":4.5},{"p":"H","k":"620","a":46.42,"b":68.13,"w":7},{"p":"H","k":"620","a":68.13,"b":100,"w":9.3},{"p":"H","k":"620","a":100,"b":146.8,"w":9.3},{"p":"H","k":"620","a":146.8,"b":215.4,"w":7},{"p":"H","k":"620","a":215.4,"b":316.2,"w":4.8},{"p":"H","k":"620","a":316.2,"b":464.2,"w":3.2},{"p":"H","k":"620","a":464.2,"b":681.3,"w":1.8},{"p":"H","k":"620","a":681.3,"b":1000,"w":0.9},{"p":"H","k":"620","a":1000,"b":1800,"w":0.3},
{"p":"H","k":"785","a":1.5,"b":3.162,"w":0.3},{"p":"H","k":"785","a":3.162,"b":4.642,"w":0.6},{"p":"H","k":"785","a":4.642,"b":6.813,"w":1},{"p":"H","k":"785","a":6.813,"b":10,"w":1.6},{"p":"H","k":"785","a":10,"b":14.68,"w":2.5},{"p":"H","k":"785","a":14.68,"b":21.54,"w":3.5},{"p":"H","k":"785","a":21.54,"b":31.62,"w":5},{"p":"H","k":"785","a":31.62,"b":46.42,"w":6.5},{"p":"H","k":"785","a":46.42,"b":68.13,"w":8},{"p":"H","k":"785","a":68.13,"b":100,"w":9},{"p":"H","k":"785","a":100,"b":146.8,"w":9.3},{"p":"H","k":"785","a":146.8,"b":215.4,"w":6},{"p":"H","k":"785","a":215.4,"b":316.2,"w":4},{"p":"H","k":"785","a":316.2,"b":464.2,"w":2.5},{"p":"H","k":"785","a":464.2,"b":681.3,"w":1.5},{"p":"H","k":"785","a":681.3,"b":1000,"w":0.7},{"p":"H","k":"785","a":1000,"b":1500,"w":0.3}
],
"m":[
{"p":"A","k":"335","d":21,"c":21},{"p":"A","k":"363","d":33,"c":33.3},{"p":"A","k":"373","d":33,"c":32},{"p":"A","k":"405","d":30,"c":30.8},{"p":"A","k":"520","d":27,"c":27.8},{"p":"A","k":"620","d":24,"c":24.3},{"p":"A","k":"785","d":21,"c":21.8},
{"p":"B","k":"335","d":0.184,"c":0.24},{"p":"B","k":"363","d":0.136,"c":0.173},{"p":"B","k":"373","d":0.184,"c":0.188},{"p":"B","k":"405","d":0.136,"c":0.154},{"p":"B","k":"520","d":0.184,"c":0.184},{"p":"B","k":"620","d":0.274,"c":0.284},{"p":"B","k":"785","d":0.274,"c":0.284},
{"p":"C","k":"335","d":0.417,"c":0.4},{"p":"C","k":"363","d":0.505,"c":0.553},{"p":"C","k":"373","d":0.505,"c":0.51},{"p":"C","k":"405","d":0.42,"c":0.457},{"p":"C","k":"520","d":0.417,"c":0.42},{"p":"C","k":"620","d":0.35,"c":0.355},{"p":"C","k":"785","d":0.35,"c":0.387},
{"p":"D","k":"335","d":89,"c":89},{"p":"D","k":"363","d":360,"c":303},{"p":"D","k":"373","d":270,"c":256},{"p":"D","k":"405","d":208,"c":215},{"p":"D","k":"520","d":157,"c":153},{"p":"D","k":"620","d":121,"c":105},{"p":"D","k":"785","d":89,"c":91},
{"p":"E","k":"335","d":21.1,"c":21.5},{"p":"E","k":"363","d":42,"c":38.9},{"p":"E","k":"373","d":38.6,"c":37.9},{"p":"E","k":"405","d":35.1,"c":32.6},{"p":"E","k":"520","d":35.1,"c":32.2},{"p":"E","k":"620","d":24.5,"c":24.5},{"p":"E","k":"785","d":17.6,"c":20.4},
{"p":"F","k":"335","d":0.095,"c":0.192},{"p":"F","k":"363","d":0.003,"c":0.035},{"p":"F","k":"373","d":0.003,"c":0.05},{"p":"F","k":"405","d":0.003,"c":0.048},{"p":"F","k":"520","d":0.003,"c":0.065},{"p":"F","k":"620","d":0.095,"c":0.158},{"p":"F","k":"785","d":0.188,"c":0.24},
{"p":"G","k":"335","d":0.369,"c":0.38},{"p":"G","k":"363","d":0.635,"c":0.6},{"p":"G","k":"373","d":0.478,"c":0.524},{"p":"G","k":"405","d":0.49,"c":0.413},{"p":"G","k":"520","d":0.281,"c":0.32},{"p":"G","k":"620","d":0.281,"c":0.32},{"p":"G","k":"785","d":0.369,"c":0.36},
{"p":"H","k":"335","d":83,"c":80},{"p":"H","k":"363","d":515,"c":443},{"p":"H","k":"373","d":353,"c":327},{"p":"H","k":"405","d":249,"c":208},{"p":"H","k":"520","d":171,"c":154},{"p":"H","k":"620","d":87,"c":87},{"p":"H","k":"785","d":84,"c":62}
]
},
"bounds":"flush",
"columns":7,
"spacing":{"row":71,"column":0},
"concat":[
{"width":203,"height":203,
"layer":[
{"data":{"name":"v"},"transform":[{"filter":"datum.p=='A'"}],"mark":{"type":"bar","stroke":"#ffffff","strokeWidth":0.6,"strokeOpacity":0.35},
"encoding":{"x":{"field":"k","type":"ordinal","scale":{"type":"point","padding":1,"domain":["335","363","373","405","520","620","785"]},"axis":{"title":"FliK length (aa)"}},
"y":{"field":"a","type":"quantitative","scale":{"domain":[0,60],"nice":false},"axis":{"title":"Swimming speed (μm/s)","values":[0,10,20,30,40,50,60]}},
"y2":{"field":"b"},
"size":{"field":"w","type":"quantitative","scale":{"domain":[0,10],"range":[0,23]},"legend":null},
"color":{"condition":{"test":"datum.k=='335'","value":"#f0646a"},"value":"#6ec8f0"}}},
{"data":{"name":"m"},"transform":[{"filter":"datum.p=='A'"}],"mark":{"type":"point","shape":"diamond","filled":false,"stroke":"#000","strokeWidth":1,"size":60,"opacity":1},"encoding":{"x":{"field":"k","type":"ordinal"},"y":{"field":"d","type":"quantitative"}}},
{"data":{"name":"m"},"transform":[{"filter":"datum.p=='A'"}],"mark":{"type":"point","shape":"M-1,0H1M0,-1V1","filled":false,"stroke":"#000","strokeWidth":1,"size":64,"opacity":1},"encoding":{"x":{"field":"k","type":"ordinal"},"y":{"field":"c","type":"quantitative"}}},
{"data":{"values":[{}]},"mark":{"type":"text","text":"che⁺","align":"right","dx":15,"fontSize":17},"encoding":{"x":{"datum":"785","type":"ordinal"},"y":{"datum":54.4,"type":"quantitative"}}},
{"data":{"values":[{}]},"mark":{"type":"text","text":"A","align":"left","baseline":"alphabetic","fontSize":20,"dx":-84.4,"dy":-7},"encoding":{"x":{"datum":"335","type":"ordinal"},"y":{"datum":60,"type":"quantitative"}}}
]},
{"width":61,"height":203,"data":{"values":[]},"mark":"point","encoding":{},"view":{"stroke":null}},
{"width":203,"height":203,
"layer":[
{"data":{"name":"v"},"transform":[{"filter":"datum.p=='B'"}],"mark":{"type":"bar","stroke":"#ffffff","strokeWidth":0.6,"strokeOpacity":0.35},
"encoding":{"x":{"field":"k","type":"ordinal","scale":{"type":"point","padding":1,"domain":["335","363","373","405","520","620","785"]},"axis":{"title":"FliK length (aa)"}},
"y":{"field":"a","type":"quantitative","scale":{"domain":[0,0.9],"nice":false},"axis":{"title":"Tumble bias","format":"~g","values":[0,0.1,0.2,0.3,0.4,0.5,0.6,0.7,0.8],"labelExpr":"indexof([0,0.2,0.4,0.6,0.8], datum.value) >= 0 ? datum.label : ''"}},
"y2":{"field":"b"},
"size":{"field":"w","type":"quantitative","scale":{"domain":[0,10],"range":[0,23]},"legend":null},
"color":{"condition":{"test":"datum.k=='335'","value":"#f0646a"},"value":"#6ec8f0"}}},
{"data":{"name":"m"},"transform":[{"filter":"datum.p=='B'"}],"mark":{"type":"point","shape":"diamond","filled":false,"stroke":"#000","strokeWidth":1,"size":60,"opacity":1},"encoding":{"x":{"field":"k","type":"ordinal"},"y":{"field":"d","type":"quantitative"}}},
{"data":{"name":"m"},"transform":[{"filter":"datum.p=='B'"}],"mark":{"type":"point","shape":"M-1,0H1M0,-1V1","filled":false,"stroke":"#000","strokeWidth":1,"size":64,"opacity":1},"encoding":{"x":{"field":"k","type":"ordinal"},"y":{"field":"c","type":"quantitative"}}},
{"data":{"values":[{}]},"mark":{"type":"text","text":"che⁺","align":"right","dx":15,"fontSize":17},"encoding":{"x":{"datum":"785","type":"ordinal"},"y":{"datum":0.816,"type":"quantitative"}}},
{"data":{"values":[{}]},"mark":{"type":"text","text":"B","align":"left","baseline":"alphabetic","fontSize":20,"dx":-78.4,"dy":-7},"encoding":{"x":{"datum":"335","type":"ordinal"},"y":{"datum":0.9,"type":"quantitative"}}}
]},
{"width":61,"height":203,"data":{"values":[]},"mark":"point","encoding":{},"view":{"stroke":null}},
{"width":203,"height":203,
"layer":[
{"data":{"name":"v"},"transform":[{"filter":"datum.p=='C'"}],"mark":{"type":"bar","stroke":"#ffffff","strokeWidth":0.6,"strokeOpacity":0.35},
"encoding":{"x":{"field":"k","type":"ordinal","scale":{"type":"point","padding":1,"domain":["335","363","373","405","520","620","785"]},"axis":{"title":"FliK length (aa)"}},
"y":{"field":"a","type":"quantitative","scale":{"type":"log","domain":[0.032,3.27],"nice":false},"axis":{"title":"Directional persistence (s)","format":"~g","values":[0.04,0.05,0.06,0.07,0.08,0.09,0.1,0.2,0.3,0.4,0.5,0.6,0.7,0.8,0.9,1,2,3],"labelExpr":"datum.value == 0.1 || datum.value == 1 ? datum.label : ''"}},
"y2":{"field":"b"},
"size":{"field":"w","type":"quantitative","scale":{"domain":[0,10],"range":[0,23]},"legend":null},
"color":{"condition":{"test":"datum.k=='335'","value":"#f0646a"},"value":"#6ec8f0"}}},
{"data":{"name":"m"},"transform":[{"filter":"datum.p=='C'"}],"mark":{"type":"point","shape":"diamond","filled":false,"stroke":"#000","strokeWidth":1,"size":60,"opacity":1},"encoding":{"x":{"field":"k","type":"ordinal"},"y":{"field":"d","type":"quantitative"}}},
{"data":{"name":"m"},"transform":[{"filter":"datum.p=='C'"}],"mark":{"type":"point","shape":"M-1,0H1M0,-1V1","filled":false,"stroke":"#000","strokeWidth":1,"size":64,"opacity":1},"encoding":{"x":{"field":"k","type":"ordinal"},"y":{"field":"c","type":"quantitative"}}},
{"data":{"values":[{}]},"mark":{"type":"text","text":"che⁺","align":"right","dx":15,"fontSize":17},"encoding":{"x":{"datum":"785","type":"ordinal"},"y":{"datum":2.12,"type":"quantitative"}}},
{"data":{"values":[{}]},"mark":{"type":"text","text":"C","align":"left","baseline":"alphabetic","fontSize":20,"dx":-82.4,"dy":-7},"encoding":{"x":{"datum":"335","type":"ordinal"},"y":{"datum":3.27,"type":"quantitative"}}}
]},
{"width":85,"height":203,"data":{"values":[]},"mark":"point","encoding":{},"view":{"stroke":null}},
{"width":203,"height":203,
"layer":[
{"data":{"name":"v"},"transform":[{"filter":"datum.p=='D'"}],"mark":{"type":"bar","stroke":"#ffffff","strokeWidth":0.6,"strokeOpacity":0.35},
"encoding":{"x":{"field":"k","type":"ordinal","scale":{"type":"point","padding":1,"domain":["335","363","373","405","520","620","785"]},"axis":{"title":"FliK length (aa)"}},
"y":{"field":"a","type":"quantitative","scale":{"type":"log","domain":[3.2,3300],"nice":false},"axis":{"title":"Diffusion coefficient (μm²/s)","format":",","values":[4,5,6,7,8,9,10,20,30,40,50,60,70,80,90,100,200,300,400,500,600,700,800,900,1000,2000,3000],"labelExpr":"datum.value == 10 || datum.value == 100 || datum.value == 1000 ? datum.label : ''"}},
"y2":{"field":"b"},
"size":{"field":"w","type":"quantitative","scale":{"domain":[0,10],"range":[0,23]},"legend":null},
"color":{"condition":{"test":"datum.k=='335'","value":"#f0646a"},"value":"#6ec8f0"}}},
{"data":{"name":"m"},"transform":[{"filter":"datum.p=='D'"}],"mark":{"type":"point","shape":"diamond","filled":false,"stroke":"#000","strokeWidth":1,"size":60,"opacity":1},"encoding":{"x":{"field":"k","type":"ordinal"},"y":{"field":"d","type":"quantitative"}}},
{"data":{"name":"m"},"transform":[{"filter":"datum.p=='D'"}],"mark":{"type":"point","shape":"M-1,0H1M0,-1V1","filled":false,"stroke":"#000","strokeWidth":1,"size":64,"opacity":1},"encoding":{"x":{"field":"k","type":"ordinal"},"y":{"field":"c","type":"quantitative"}}},
{"data":{"values":[{}]},"mark":{"type":"text","text":"che⁺","align":"right","dx":15,"fontSize":17},"encoding":{"x":{"datum":"785","type":"ordinal"},"y":{"datum":1724,"type":"quantitative"}}},
{"data":{"values":[{}]},"mark":{"type":"text","text":"D","align":"left","baseline":"alphabetic","fontSize":20,"dx":-99.4,"dy":-7},"encoding":{"x":{"datum":"335","type":"ordinal"},"y":{"datum":3300,"type":"quantitative"}}}
]},
{"width":203,"height":203,
"layer":[
{"data":{"name":"v"},"transform":[{"filter":"datum.p=='E'"}],"mark":{"type":"bar","stroke":"#ffffff","strokeWidth":0.6,"strokeOpacity":0.35},
"encoding":{"x":{"field":"k","type":"ordinal","scale":{"type":"point","padding":1,"domain":["335","363","373","405","520","620","785"]},"axis":{"title":"FliK length (aa)"}},
"y":{"field":"a","type":"quantitative","scale":{"domain":[0,70],"nice":false},"axis":{"title":"Swimming speed (μm/s)","values":[0,10,20,30,40,50,60,70]}},
"y2":{"field":"b"},
"size":{"field":"w","type":"quantitative","scale":{"domain":[0,10],"range":[0,23]},"legend":null},
"color":{"condition":{"test":"datum.k=='335'","value":"#f0646a"},"value":"#6ec8f0"}}},
{"data":{"name":"m"},"transform":[{"filter":"datum.p=='E'"}],"mark":{"type":"point","shape":"diamond","filled":false,"stroke":"#000","strokeWidth":1,"size":60,"opacity":1},"encoding":{"x":{"field":"k","type":"ordinal"},"y":{"field":"d","type":"quantitative"}}},
{"data":{"name":"m"},"transform":[{"filter":"datum.p=='E'"}],"mark":{"type":"point","shape":"M-1,0H1M0,-1V1","filled":false,"stroke":"#000","strokeWidth":1,"size":64,"opacity":1},"encoding":{"x":{"field":"k","type":"ordinal"},"y":{"field":"c","type":"quantitative"}}},
{"data":{"values":[{}]},"mark":{"type":"text","text":"che‾","align":"right","dx":15,"fontSize":17},"encoding":{"x":{"datum":"785","type":"ordinal"},"y":{"datum":63.1,"type":"quantitative"}}},
{"data":{"values":[{}]},"mark":{"type":"text","text":"E","align":"left","baseline":"alphabetic","fontSize":20,"dx":-84.4,"dy":-5},"encoding":{"x":{"datum":"335","type":"ordinal"},"y":{"datum":70,"type":"quantitative"}}}
]},
{"width":61,"height":203,"data":{"values":[]},"mark":"point","encoding":{},"view":{"stroke":null}},
{"width":203,"height":203,
"layer":[
{"data":{"name":"v"},"transform":[{"filter":"datum.p=='F'"}],"mark":{"type":"bar","stroke":"#ffffff","strokeWidth":0.6,"strokeOpacity":0.35},
"encoding":{"x":{"field":"k","type":"ordinal","scale":{"type":"point","padding":1,"domain":["335","363","373","405","520","620","785"]},"axis":{"title":"FliK length (aa)"}},
"y":{"field":"a","type":"quantitative","scale":{"domain":[0,0.9],"nice":false},"axis":{"title":"Tumble bias","format":"~g","values":[0,0.1,0.2,0.3,0.4,0.5,0.6,0.7,0.8],"labelExpr":"indexof([0,0.2,0.4,0.6,0.8], datum.value) >= 0 ? datum.label : ''"}},
"y2":{"field":"b"},
"size":{"field":"w","type":"quantitative","scale":{"domain":[0,10],"range":[0,23]},"legend":null},
"color":{"condition":{"test":"datum.k=='335'","value":"#f0646a"},"value":"#6ec8f0"}}},
{"data":{"name":"m"},"transform":[{"filter":"datum.p=='F'"}],"mark":{"type":"point","shape":"diamond","filled":false,"stroke":"#000","strokeWidth":1,"size":60,"opacity":1},"encoding":{"x":{"field":"k","type":"ordinal"},"y":{"field":"d","type":"quantitative"}}},
{"data":{"name":"m"},"transform":[{"filter":"datum.p=='F'"}],"mark":{"type":"point","shape":"M-1,0H1M0,-1V1","filled":false,"stroke":"#000","strokeWidth":1,"size":64,"opacity":1},"encoding":{"x":{"field":"k","type":"ordinal"},"y":{"field":"c","type":"quantitative"}}},
{"data":{"values":[{}]},"mark":{"type":"text","text":"che‾","align":"right","dx":15,"fontSize":17},"encoding":{"x":{"datum":"785","type":"ordinal"},"y":{"datum":0.811,"type":"quantitative"}}},
{"data":{"values":[{}]},"mark":{"type":"text","text":"F","align":"left","baseline":"alphabetic","fontSize":20,"dx":-78.4,"dy":-5},"encoding":{"x":{"datum":"335","type":"ordinal"},"y":{"datum":0.9,"type":"quantitative"}}}
]},
{"width":61,"height":203,"data":{"values":[]},"mark":"point","encoding":{},"view":{"stroke":null}},
{"width":203,"height":203,
"layer":[
{"data":{"name":"v"},"transform":[{"filter":"datum.p=='G'"}],"mark":{"type":"bar","stroke":"#ffffff","strokeWidth":0.6,"strokeOpacity":0.35},
"encoding":{"x":{"field":"k","type":"ordinal","scale":{"type":"point","padding":1,"domain":["335","363","373","405","520","620","785"]},"axis":{"title":"FliK length (aa)"}},
"y":{"field":"a","type":"quantitative","scale":{"type":"log","domain":[0.01,10],"nice":false},"axis":{"title":"Directional persistence (s)","format":"~g","values":[0.02,0.03,0.04,0.05,0.06,0.07,0.08,0.09,0.1,0.2,0.3,0.4,0.5,0.6,0.7,0.8,0.9,1,2,3,4,5,6,7,8,9],"labelExpr":"datum.value == 0.1 || datum.value == 1 ? datum.label : ''"}},
"y2":{"field":"b"},
"size":{"field":"w","type":"quantitative","scale":{"domain":[0,10],"range":[0,23]},"legend":null},
"color":{"condition":{"test":"datum.k=='335'","value":"#f0646a"},"value":"#6ec8f0"}}},
{"data":{"name":"m"},"transform":[{"filter":"datum.p=='G'"}],"mark":{"type":"point","shape":"diamond","filled":false,"stroke":"#000","strokeWidth":1,"size":60,"opacity":1},"encoding":{"x":{"field":"k","type":"ordinal"},"y":{"field":"d","type":"quantitative"}}},
{"data":{"name":"m"},"transform":[{"filter":"datum.p=='G'"}],"mark":{"type":"point","shape":"M-1,0H1M0,-1V1","filled":false,"stroke":"#000","strokeWidth":1,"size":64,"opacity":1},"encoding":{"x":{"field":"k","type":"ordinal"},"y":{"field":"c","type":"quantitative"}}},
{"data":{"values":[{}]},"mark":{"type":"text","text":"che‾","align":"right","dx":15,"fontSize":17},"encoding":{"x":{"datum":"785","type":"ordinal"},"y":{"datum":5.06,"type":"quantitative"}}},
{"data":{"values":[{}]},"mark":{"type":"text","text":"G","align":"left","baseline":"alphabetic","fontSize":20,"dx":-82.4,"dy":-5},"encoding":{"x":{"datum":"335","type":"ordinal"},"y":{"datum":10,"type":"quantitative"}}}
]},
{"width":85,"height":203,"data":{"values":[]},"mark":"point","encoding":{},"view":{"stroke":null}},
{"width":203,"height":203,
"layer":[
{"data":{"name":"v"},"transform":[{"filter":"datum.p=='H'"}],"mark":{"type":"bar","stroke":"#ffffff","strokeWidth":0.6,"strokeOpacity":0.35},
"encoding":{"x":{"field":"k","type":"ordinal","scale":{"type":"point","padding":1,"domain":["335","363","373","405","520","620","785"]},"axis":{"title":"FliK length (aa)"}},
"y":{"field":"a","type":"quantitative","scale":{"type":"log","domain":[1,10000],"nice":false},"axis":{"title":"Diffusion coefficient (μm²/s)","format":",","values":[2,3,4,5,6,7,8,9,10,20,30,40,50,60,70,80,90,100,200,300,400,500,600,700,800,900,1000,2000,3000,4000,5000,6000,7000,8000,9000],"labelExpr":"datum.value == 10 || datum.value == 100 || datum.value == 1000 ? datum.label : ''"}},
"y2":{"field":"b"},
"size":{"field":"w","type":"quantitative","scale":{"domain":[0,10],"range":[0,23]},"legend":null},
"color":{"condition":{"test":"datum.k=='335'","value":"#f0646a"},"value":"#6ec8f0"}}},
{"data":{"name":"m"},"transform":[{"filter":"datum.p=='H'"}],"mark":{"type":"point","shape":"diamond","filled":false,"stroke":"#000","strokeWidth":1,"size":60,"opacity":1},"encoding":{"x":{"field":"k","type":"ordinal"},"y":{"field":"d","type":"quantitative"}}},
{"data":{"name":"m"},"transform":[{"filter":"datum.p=='H'"}],"mark":{"type":"point","shape":"M-1,0H1M0,-1V1","filled":false,"stroke":"#000","strokeWidth":1,"size":64,"opacity":1},"encoding":{"x":{"field":"k","type":"ordinal"},"y":{"field":"c","type":"quantitative"}}},
{"data":{"values":[{}]},"mark":{"type":"text","text":"che‾","align":"right","dx":15,"fontSize":17},"encoding":{"x":{"datum":"785","type":"ordinal"},"y":{"datum":4036,"type":"quantitative"}}},
{"data":{"values":[{}]},"mark":{"type":"text","text":"H","align":"left","baseline":"alphabetic","fontSize":20,"dx":-99.4,"dy":-5},"encoding":{"x":{"datum":"335","type":"ordinal"},"y":{"datum":10000,"type":"quantitative"}}}
]}
]
}
